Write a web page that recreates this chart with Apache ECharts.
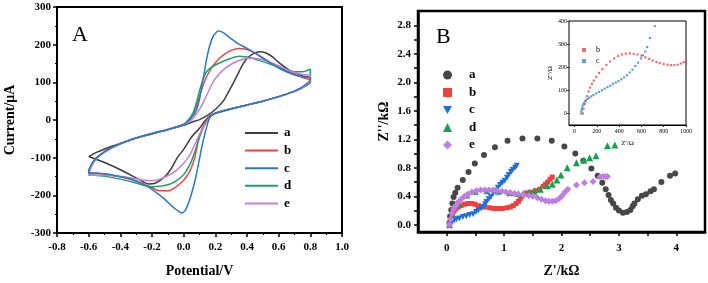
<!DOCTYPE html>
<html><head><meta charset="utf-8">
<script src="https://cdn.jsdelivr.net/npm/echarts@6/dist/echarts.min.js"></script>
<style>html,body{margin:0;padding:0;background:#fff}#c{width:708px;height:283px}</style>
</head><body><div id="c"></div>
<script>
// ---------- Panel A: cyclic voltammograms (Potential V, Current µA) ----------
const cvNames = ['a','b','c','d','e'];
const cvA = [[-0.6,-97],[-0.55,-86],[-0.5,-77],[-0.45,-69],[-0.4,-62],[-0.3,-48],[-0.2,-37],[-0.1,-26],[0.0,-14],[0.05,-6],[0.1,1],[0.15,12],[0.2,28],[0.25,50],[0.28,72],[0.31,95],[0.34,120],[0.37,145],[0.4,163],[0.44,176],[0.48,181],[0.52,178],[0.56,168],[0.6,153],[0.65,137],[0.7,125],[0.75,117],[0.8,112],
  [0.8,100],[0.75,86],[0.7,76],[0.6,62],[0.5,50],[0.4,40],[0.3,30],[0.2,18],[0.15,5],[0.1,-22],[0.05,-45],[0.0,-78],[-0.04,-100],[-0.08,-130],[-0.12,-151],[-0.18,-168],[-0.22,-170],[-0.29,-156],[-0.39,-134],[-0.5,-113],[-0.6,-97]];
const cvB = [[-0.6,-140],[-0.58,-118],[-0.55,-100],[-0.5,-84],[-0.45,-72],[-0.4,-63],[-0.3,-48],[-0.2,-36],[-0.1,-25],[0.0,-12],[0.04,0],[0.07,25],[0.1,62],[0.125,95],[0.15,120],[0.2,152],[0.25,172],[0.3,185],[0.35,190],[0.4,187],[0.45,178],[0.5,165],[0.55,152],[0.6,140],[0.65,130],[0.7,122],[0.75,113],[0.8,105],
  [0.8,100],[0.75,86],[0.7,76],[0.6,62],[0.5,50],[0.4,40],[0.3,30],[0.2,18],[0.16,8],[0.13,-10],[0.11,-30],[0.09,-60],[0.07,-100],[0.04,-135],[0.0,-160],[-0.05,-178],[-0.1,-188],[-0.15,-188],[-0.2,-180],[-0.3,-163],[-0.4,-151],[-0.5,-144],[-0.55,-142],[-0.6,-140]];
const cvC = [[-0.6,-133],[-0.58,-115],[-0.55,-100],[-0.5,-84],[-0.45,-72],[-0.4,-63],[-0.3,-48],[-0.2,-36],[-0.1,-25],[0.0,-12],[0.03,0],[0.06,12],[0.08,25],[0.1,55],[0.115,92],[0.13,125],[0.145,162],[0.165,198],[0.19,225],[0.22,236],[0.25,232],[0.3,216],[0.335,205],[0.4,190],[0.46,175],[0.53,156],[0.6,138],[0.66,126],[0.71,118],[0.75,115],[0.8,112],
  [0.8,108],[0.75,88],[0.67,72],[0.6,62],[0.46,46],[0.4,40],[0.29,28],[0.2,18],[0.17,10],[0.156,-3],[0.135,-35],[0.114,-73],[0.093,-118],[0.072,-160],[0.05,-195],[0.03,-221],[0.01,-240],[-0.012,-247],[-0.03,-243],[-0.05,-237],[-0.076,-228],[-0.12,-210],[-0.181,-190],[-0.235,-175],[-0.286,-164],[-0.34,-156],[-0.391,-151],[-0.45,-146],[-0.5,-143],[-0.55,-141],[-0.6,-141],[-0.6,-133]];
const cvD = [[-0.6,-143],[-0.58,-120],[-0.55,-102],[-0.5,-85],[-0.4,-63],[-0.3,-48],[-0.2,-36],[-0.1,-25],[0.0,-12],[0.03,0],[0.06,20],[0.08,45],[0.1,78],[0.12,105],[0.135,122],[0.16,135],[0.2,146],[0.25,156],[0.3,164],[0.35,169],[0.4,167],[0.45,162],[0.5,155],[0.55,148],[0.6,140],[0.65,133],[0.7,128],[0.75,128],[0.8,135],
  [0.8,102],[0.75,86],[0.7,76],[0.6,62],[0.5,50],[0.4,40],[0.3,30],[0.2,18],[0.16,6],[0.13,-15],[0.1,-45],[0.07,-85],[0.04,-118],[0.0,-145],[-0.05,-162],[-0.1,-172],[-0.15,-176],[-0.2,-177],[-0.25,-174],[-0.3,-167],[-0.4,-157],[-0.5,-149],[-0.6,-145],[-0.6,-143]];
const cvE = [[-0.6,-143],[-0.58,-120],[-0.55,-102],[-0.5,-85],[-0.4,-63],[-0.3,-48],[-0.2,-36],[-0.1,-25],[0.0,-12],[0.05,0],[0.1,28],[0.125,48],[0.15,70],[0.175,92],[0.2,110],[0.25,133],[0.3,148],[0.35,158],[0.4,164],[0.45,164],[0.5,160],[0.55,153],[0.6,144],[0.65,134],[0.7,126],[0.75,121],[0.8,118],
  [0.8,104],[0.75,86],[0.7,76],[0.6,62],[0.5,50],[0.4,40],[0.3,30],[0.2,17],[0.16,4],[0.13,-15],[0.1,-38],[0.07,-65],[0.04,-92],[0.0,-115],[-0.05,-135],[-0.1,-148],[-0.15,-157],[-0.2,-161],[-0.25,-160],[-0.3,-156],[-0.4,-150],[-0.5,-147],[-0.6,-147],[-0.6,-143]];
const cvColors = ['#3d3d3d','#e8474b','#2a78c0','#1e9e6a','#c47fd8'];
const cvXTicks = [-0.8,-0.6,-0.4,-0.2,0.0,0.2,0.4,0.6,0.8,1.0];
const cvYTicks = [-300,-200,-100,0,100,200,300];

// ---------- Panel B: Nyquist plots (Z' kΩ, Z'' kΩ) ----------
const eisNames = ['a','b','c','d','e'];
const eisA = [[0.05,0.03],[0.06,0.12],[0.08,0.21],[0.10,0.30],[0.12,0.39],[0.15,0.45],[0.19,0.52],[0.28,0.63],[0.38,0.74],[0.49,0.86],[0.65,0.98],[0.84,1.09],[1.06,1.18],[1.32,1.21],[1.58,1.21],[1.83,1.18],[2.05,1.10],[2.24,1.00],[2.38,0.90],[2.52,0.79],[2.63,0.69],[2.71,0.59],[2.77,0.50],[2.82,0.42],[2.86,0.35],[2.90,0.30],[2.95,0.24],[3.00,0.20],[3.07,0.17],[3.14,0.18],[3.20,0.21],[3.24,0.26],[3.27,0.30],[3.33,0.36],[3.40,0.41],[3.47,0.43],[3.55,0.47],[3.61,0.50],[3.74,0.60],[3.89,0.69],[3.98,0.72]];
const eisB = [[0.05,0.02],[0.07,0.08],[0.09,0.13],[0.11,0.17],[0.13,0.20],[0.16,0.23],[0.20,0.25],[0.25,0.27],[0.31,0.29],[0.37,0.30],[0.43,0.30],[0.49,0.29],[0.55,0.27],[0.60,0.26],[0.67,0.25],[0.75,0.24],[0.82,0.23],[0.90,0.23],[0.97,0.23],[1.05,0.24],[1.11,0.25],[1.16,0.27],[1.21,0.30],[1.25,0.33],[1.28,0.37],[1.31,0.40],[1.35,0.43],[1.40,0.45],[1.47,0.46],[1.55,0.48],[1.62,0.50],[1.68,0.54],[1.72,0.57],[1.76,0.60],[1.80,0.64],[1.84,0.67]];
const eisC = [[0.05,0.0],[0.08,0.03],[0.13,0.06],[0.17,0.08],[0.22,0.09],[0.28,0.11],[0.34,0.12],[0.40,0.14],[0.46,0.15],[0.51,0.18],[0.55,0.20],[0.60,0.23],[0.64,0.25],[0.67,0.29],[0.69,0.32],[0.73,0.36],[0.77,0.39],[0.81,0.44],[0.85,0.48],[0.89,0.52],[0.93,0.56],[0.97,0.59],[1.01,0.62],[1.05,0.66],[1.08,0.70],[1.12,0.74],[1.15,0.77],[1.19,0.80],[1.22,0.83]];
const eisD = [[0.05,0.0],[0.1,0.15],[0.2,0.3],[0.35,0.42],[0.5,0.47],[0.7,0.48],[0.9,0.47],[1.1,0.45],[1.25,0.44],[1.34,0.44],[1.43,0.45],[1.52,0.47],[1.63,0.50],[1.75,0.55],[1.84,0.57],[1.92,0.63],[1.99,0.70],[2.10,0.80],[2.26,0.87],[2.39,0.91],[2.49,0.94],[2.60,0.97],[2.80,1.11],[2.93,1.12]];
const eisE = [[0.05,0.0],[0.07,0.08],[0.09,0.16],[0.12,0.22],[0.16,0.27],[0.20,0.32],[0.25,0.36],[0.31,0.40],[0.37,0.43],[0.44,0.46],[0.52,0.48],[0.59,0.49],[0.66,0.49],[0.74,0.49],[0.81,0.49],[0.88,0.48],[0.96,0.47],[1.03,0.46],[1.11,0.45],[1.18,0.44],[1.25,0.43],[1.34,0.42],[1.43,0.41],[1.50,0.40],[1.58,0.38],[1.65,0.36],[1.72,0.34],[1.78,0.33],[1.84,0.33],[1.90,0.34],[1.96,0.37],[2.01,0.41],[2.06,0.46],[2.11,0.50],[2.26,0.56],[2.40,0.59],[2.55,0.61],[2.67,0.67],[2.72,0.68],[2.76,0.68],[2.80,0.68]];
const eisColors = ['#474747','#ef4040','#1f6fd6','#17a04e','#c07ee2'];
const eisSymbols = ['circle','rect','triangle','triangle','diamond'];
const eisSymbolRotate = [0,0,180,0,0];
const eisSymbolSize = [6,5,6,7,7];
const eisXLabels = [0,1,2,3,4];
const eisXTicks = [0,0.5,1,1.5,2,2.5,3,3.5,4];
const eisYLabels = [0,0.4,0.8,1.2,1.6,2.0,2.4,2.8];
const eisYTicks = [0,0.2,0.4,0.6,0.8,1.0,1.2,1.4,1.6,1.8,2.0,2.2,2.4,2.6,2.8];

// ---------- Inset (Z' Ω, Z'' Ω) ----------
const insetNames = ['b','c'];
const insetB = [[75,0],[80,20],[90,40],[100,55],[112,75],[125,95],[140,112],[155,128],[172,142],[195,158],[220,175],[250,192],[285,210],[320,225],[355,238],[390,249],[425,255],[460,259],[495,260],[530,258],[565,255],[600,250],[635,243],[670,236],[700,229],[735,222],[765,218],[800,214],[835,211],[865,209],[895,209],[925,211],[955,216],[980,222],[1000,226]];
const insetC = [[60,0],[62,10],[65,20],[70,30],[78,40],[88,48],[100,55],[115,62],[130,68],[150,74],[170,80],[195,87],[220,93],[245,100],[270,107],[295,114],[320,120],[345,128],[370,134],[395,140],[420,148],[445,156],[470,165],[495,177],[520,190],[545,205],[570,220],[595,238],[615,252],[635,268],[652,287],[677,327],[720,378]];
const insetColors = ['#e84a4a','#3a86d4'];
const insetXLabels = [0,200,400,600,800,1000];
const insetYLabels = [0,100,200,300,400];

const SERIF = '"Liberation Serif","Times New Roman",serif';
const chart = echarts.init(document.getElementById('c'), null, {renderer:'canvas'});

const cvData = [cvA,cvB,cvC,cvD,cvE];
const eisData = [eisA,eisB,eisC,eisD,eisE];
const insetData = [insetB,insetC];

const series = [];
cvData.forEach((d,i)=>series.push({
  name:'A-'+cvNames[i], type:'line', xAxisIndex:0, yAxisIndex:0, data:d,
  showSymbol:false, symbol:'none', smooth:0.25, clip:false,
  z: i===2 ? 4 : 2,
  lineStyle:{color:cvColors[i], width:1.5}, itemStyle:{color:cvColors[i]}
}));
eisData.forEach((d,i)=>series.push({
  name:'B-'+eisNames[i], type:'scatter', xAxisIndex:1, yAxisIndex:1, data:d,
  symbol:eisSymbols[i], symbolRotate:eisSymbolRotate[i], symbolSize:eisSymbolSize[i],
  itemStyle:{color:eisColors[i], opacity:1}, z:2+i
}));
insetData.forEach((d,i)=>series.push({
  name:'I-'+insetNames[i], type:'scatter', xAxisIndex:2, yAxisIndex:2, data:d,
  symbol:'rect', symbolSize:2.2, itemStyle:{color:insetColors[i]}, z:10
}));

const boldLab = {fontFamily:SERIF, fontWeight:'bold', fontSize:11, color:'#000'};
const axLine = {show:true, onZero:false, lineStyle:{color:'#000', width:2}};
const downTri = 'path://M0,0L10,0L5,9Z';

chart.setOption({
  animation:false,
  backgroundColor:'#fff',
  textStyle:{fontFamily:SERIF},
  title:[
    {text:'A', left:67, top:19, textStyle:{fontFamily:SERIF, fontWeight:'normal', fontSize:22, color:'#000'}},
    {text:'B', left:431, top:21, textStyle:{fontFamily:SERIF, fontWeight:'normal', fontSize:22, color:'#000'}}
  ],
  grid:[
    {left:57, top:7, width:285, height:230, show:true, borderColor:'#000', borderWidth:2, backgroundColor:'transparent'},
    {left:418, top:11, width:287, height:229, show:true, borderColor:'#000', borderWidth:2.5, backgroundColor:'transparent'},
    {left:569, top:21, width:117, height:104, show:true, borderColor:'#000', borderWidth:1, backgroundColor:'#fff', z:5}
  ],
  xAxis:[
    {gridIndex:0, type:'value', min:-0.8, max:1.0, interval:0.2,
     axisLine:axLine, axisTick:{show:true, inside:false, length:4, lineStyle:{width:1.5,color:'#000'}},
     minorTick:{show:true, splitNumber:2, length:2, lineStyle:{color:'#000'}},
     splitLine:{show:false},
     axisLabel:Object.assign({margin:9, formatter:v=>v.toFixed(1), customValues:cvXTicks}, boldLab),
     name:'Potential/V', nameLocation:'middle', nameGap:31,
     nameTextStyle:{fontFamily:SERIF, fontWeight:'bold', fontSize:14, color:'#000'}},
    {gridIndex:1, type:'value', min:-0.5, max:4.5,
     axisLine:Object.assign({}, axLine, {lineStyle:{color:'#000', width:2.5}}), axisTick:{show:true, length:4, customValues:eisXTicks, lineStyle:{width:1.5,color:'#000'}},
     splitLine:{show:false},
     axisLabel:Object.assign({margin:11, customValues:eisXLabels, formatter:v=>String(v)}, boldLab),
     name:"Z'/kΩ", nameLocation:'middle', nameGap:32,
     nameTextStyle:{fontFamily:SERIF, fontWeight:'bold', fontSize:14, color:'#000'}},
    {gridIndex:2, type:'value', min:-50, max:1000,
     axisLine:{show:true, onZero:false, lineStyle:{color:'#000', width:1}},
     axisTick:{show:true, length:2, customValues:insetXLabels, lineStyle:{color:'#000', width:0.8}},
     splitLine:{show:false},
     axisLabel:{customValues:insetXLabels, formatter:v=>String(v), fontFamily:SERIF, fontSize:6, color:'#000', margin:3},
     name:"Z'/Ω", nameLocation:'middle', nameGap:15,
     nameTextStyle:{fontFamily:SERIF, fontSize:7, color:'#000'}}
  ],
  yAxis:[
    {gridIndex:0, type:'value', min:-300, max:300, interval:100,
     axisLine:axLine, axisTick:{show:true, length:4, lineStyle:{width:1.5,color:'#000'}},
     minorTick:{show:true, splitNumber:2, length:2, lineStyle:{color:'#000'}},
     splitLine:{show:false},
     axisLabel:Object.assign({margin:6, customValues:cvYTicks}, boldLab),
     name:'Current/μA', nameLocation:'middle', nameGap:40, nameRotate:90,
     nameTextStyle:{fontFamily:SERIF, fontWeight:'bold', fontSize:14, color:'#000'}},
    {gridIndex:1, type:'value', min:-0.1, max:3.0,
     axisLine:Object.assign({}, axLine, {lineStyle:{color:'#000', width:2.5}}), axisTick:{show:true, length:4, customValues:eisYTicks, lineStyle:{width:1.5,color:'#000'}},
     splitLine:{show:false},
     axisLabel:Object.assign({margin:7, customValues:eisYLabels, formatter:v=>v.toFixed(1)}, boldLab),
     name:"Z''/kΩ", nameLocation:'middle', nameGap:27, nameRotate:90,
     nameTextStyle:{fontFamily:SERIF, fontWeight:'bold', fontSize:14, color:'#000'}},
    {gridIndex:2, type:'value', min:-50, max:400,
     axisLine:{show:true, onZero:false, lineStyle:{color:'#000', width:1}},
     axisTick:{show:true, length:2, customValues:insetYLabels, lineStyle:{color:'#000', width:0.8}},
     splitLine:{show:false},
     axisLabel:{customValues:insetYLabels, fontFamily:SERIF, fontSize:6, color:'#000', margin:2},
     name:"Z''/Ω", nameLocation:'middle', nameGap:12, nameRotate:90,
     nameTextStyle:{fontFamily:SERIF, fontSize:7, color:'#000'}}
  ],
  legend:[
    {data:cvNames.map(n=>'A-'+n), orient:'vertical', left:240, top:121, icon:'rect',
     itemWidth:33, itemHeight:2, itemGap:3.6, formatter:n=>n.slice(2),
     textStyle:{fontFamily:SERIF, fontWeight:'bold', fontSize:13, lineHeight:14, color:'#000', padding:[0,0,0,1]}},
    {data:eisNames.map((n,i)=>i===2 ? {name:'B-'+n, icon:downTri} : {name:'B-'+n}), orient:'vertical', left:438, top:63,
     itemWidth:9, itemHeight:9, itemGap:3.5, formatter:n=>n.slice(2),
     textStyle:{fontFamily:SERIF, fontWeight:'bold', fontSize:13, lineHeight:14, color:'#000', padding:[0,0,0,12]}},
    {data:insetNames.map(n=>'I-'+n), orient:'vertical', left:577, top:41,
     itemWidth:4, itemHeight:4, itemGap:3, formatter:n=>n.slice(2), z:12,
     textStyle:{fontFamily:SERIF, fontSize:8, color:'#000', padding:[0,0,0,5]}}
  ],
  series:series
});
</script></body></html>
